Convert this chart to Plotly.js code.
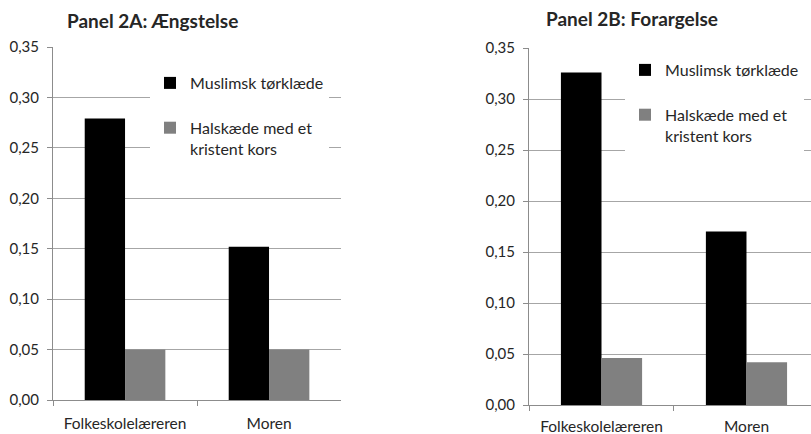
<!DOCTYPE html>
<html>
<head>
<meta charset="utf-8">
<script src="https://cdn.plot.ly/plotly-3.0.1.min.js"></script>
<style>html,body{margin:0;padding:0;background:#fff;overflow:hidden}#chart{width:811px;height:434px}</style>
</head>
<body>
<div id="chart"></div>
<script>
const categories = ["Folkeskolelæreren", "Moren"];
const seriesNames = ["Muslimsk tørklæde", "Halskæde med et<br>kristent kors"];
const panelTitles = ["Panel 2A: Ængstelse", "Panel 2B: Forargelse"];
const panelA_torklaede = [0.279, 0.152];
const panelA_halskaede = [0.050, 0.050];
const panelB_torklaede = [0.326, 0.170];
const panelB_halskaede = [0.046, 0.042];
const yTickVals = [0, 0.05, 0.10, 0.15, 0.20, 0.25, 0.30, 0.35];

const FONT = "Lato, 'Open Sans', sans-serif";
const TXT = "#262626";
const colors = ["#000000", "#808080"];

function bar(x, y, name, color, xa, ya, leg, grp) {
  return {type: "bar", x: x, y: y, name: name, xaxis: xa, yaxis: ya, legend: leg,
    legendgroup: grp, marker: {color: color, line: {width: 0}}, hoverinfo: "skip"};
}

const data = [
  bar(categories, panelA_torklaede, seriesNames[0], colors[0], "x", "y", "legend", "a1"),
  bar(categories, panelA_halskaede, seriesNames[1], colors[1], "x", "y", "legend", "a2"),
  bar(categories, panelB_torklaede, seriesNames[0], colors[0], "x2", "y2", "legend2", "b1"),
  bar(categories, panelB_halskaede, seriesNames[1], colors[1], "x2", "y2", "legend2", "b2")
];

const xBase = {type: "category", tickson: "boundaries", ticks: "outside", ticklen: 5,
  tickcolor: "#8c8c8c", showline: true, linecolor: "#8c8c8c", linewidth: 1, showgrid: false,
  tickfont: {family: FONT, size: 15.5, color: TXT}, ticklabelstandoff: 9, fixedrange: true};
const yBase = {range: [0, 0.35], tickvals: yTickVals, tickformat: ".2f", ticks: "outside",
  ticklen: 5, tickcolor: "#8c8c8c", showline: true, linecolor: "#8c8c8c", linewidth: 1,
  showgrid: true, gridcolor: "#a6a6a6", gridwidth: 1, zeroline: false,
  tickfont: {family: FONT, size: 15, color: TXT}, ticklabelstandoff: 5, fixedrange: true};

const legBase = {bgcolor: "#ffffff", font: {family: FONT, size: 16, color: TXT},
  traceorder: "grouped", tracegroupgap: 21, valign: "top", xanchor: "left", yanchor: "top",
  itemclick: false, itemdoubleclick: false};

const layout = {
  width: 811, height: 434,
  margin: {l: 0, r: 0, t: 0, b: 0},
  paper_bgcolor: "#ffffff", plot_bgcolor: "#ffffff",
  separators: ",.",
  bargap: 0.44, bargroupgap: 0, barmode: "group",
  xaxis: Object.assign({}, xBase, {domain: [0.0654, 0.4205], anchor: "y", range: [-0.5, 1.5]}),
  yaxis: Object.assign({}, yBase, {domain: [0.0783, 0.8917], anchor: "x"}),
  xaxis2: Object.assign({}, xBase, {domain: [0.6523, 1], anchor: "y2", range: [-0.5, 1.445],
    ticklabelstandoff: 7}),
  yaxis2: Object.assign({}, yBase, {domain: [0.0668, 0.8894], anchor: "x2"}),
  legend: Object.assign({}, legBase, {x: 150 / 811, y: (434 - 66) / 434}),
  legend2: Object.assign({}, legBase, {x: 625 / 811, y: (434 - 53) / 434}),
  annotations: [
    {text: "<b>" + panelTitles[0] + "</b>", xref: "paper", yref: "paper", x: 152.5 / 811,
      y: (434 - 20) / 434, xanchor: "center", yanchor: "middle", showarrow: false,
      font: {family: FONT, size: 19, color: TXT}},
    {text: "<b>" + panelTitles[1] + "</b>", xref: "paper", yref: "paper", x: 631.5 / 811,
      y: (434 - 18) / 434, xanchor: "center", yanchor: "middle", showarrow: false,
      font: {family: FONT, size: 19, color: TXT}}
  ]
};

Plotly.newPlot("chart", data, layout, {displayModeBar: false, staticPlot: false, responsive: false});
</script>
</body>
</html>
